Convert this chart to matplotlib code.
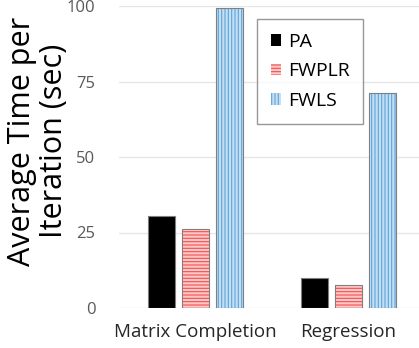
import matplotlib.pyplot as plt
import matplotlib.patches as mpatches
import numpy as np

plt.rcParams['font.family'] = ['Open Sans', 'DejaVu Sans']
plt.rcParams['hatch.linewidth'] = 0.8

categories = ['Matrix Completion', 'Regression']
methods = ['PA', 'FWPLR', 'FWLS']
pa = [30.5, 9.9]
fwplr = [26.2, 7.6]
fwls = [99.3, 71.2]

fills = ['black', '#ffc8c8', '#c6def2']
hatch_colors = ['black', '#f05050', '#5aa5e0']
hatches = [None, '-----', '|||||']

fig = plt.figure(figsize=(4.19, 3.48), dpi=100)
ax = fig.add_axes([119 / 419, 1 - 308 / 348, 1 - 119 / 419, 302 / 348])

x = np.arange(len(categories))
w = 27 / 153
step = 34 / 153
handles = []
for i, vals in enumerate([pa, fwplr, fwls]):
    pos = x + (i - 1) * step
    # hatch takes the edge colour, so draw the outline separately
    ax.bar(pos, vals, w, color=fills[i], edgecolor=hatch_colors[i],
           hatch=hatches[i], linewidth=0, zorder=2)
    ax.bar(pos, vals, w, fill=False, edgecolor='#7f7f7f', linewidth=0.8, zorder=3)
    handles.append(mpatches.Patch(facecolor=fills[i], edgecolor=hatch_colors[i],
                                  hatch=hatches[i], linewidth=0, label=methods[i]))

ax.set_xlim(-0.5, 1.5 - 6 / 153)
ax.set_ylim(0, 100)
ax.set_yticks([0, 25, 50, 75, 100])
ax.set_xticks(x)
ax.set_xticklabels(categories)
ax.grid(axis='y', color='#e6e6e6', linewidth=1, zorder=0)
ax.set_axisbelow(True)
for s in ax.spines.values():
    s.set_visible(False)
ax.tick_params(axis='both', length=0, colors='#595959', labelsize=12)
ax.tick_params(axis='y', pad=17)
ax.tick_params(axis='x', pad=11, labelsize=13.5, labelcolor='#262626')
ax.set_ylabel('Average Time per\nIteration (sec)', fontsize=22, color='black',
              linespacing=1.1, va='center')
ax.yaxis.set_label_coords(-0.27, 0.553)

leg = ax.legend(handles=handles, loc='upper left',
                bbox_to_anchor=((257 - 119) / 300, 1 - 13 / 302),
                frameon=True, fancybox=False, edgecolor='#7f7f7f',
                fontsize=14, handlelength=0.55, handleheight=0.55,
                handletextpad=0.35, labelspacing=0.6, borderpad=0.7,
                borderaxespad=0)
leg.get_frame().set_linewidth(1)

fig.savefig('out.png', dpi=100)
